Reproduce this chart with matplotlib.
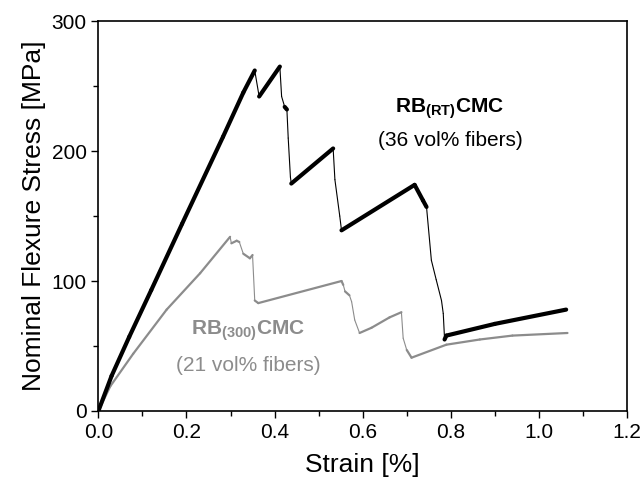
import numpy as np
import matplotlib
matplotlib.use('Agg')
import matplotlib.pyplot as plt
from matplotlib.ticker import MultipleLocator

plt.rcParams['font.family'] = ['Liberation Sans', 'DejaVu Sans']
plt.rcParams['mathtext.fontset'] = 'custom'
plt.rcParams['mathtext.rm'] = 'Liberation Sans'
plt.rcParams['mathtext.bf'] = 'Liberation Sans:bold'

# RB(RT) CMC, 36 vol% fibers
rt_strain = [0.0, 0.03, 0.07, 0.12, 0.19, 0.283, 0.329, 0.355, 0.365, 0.412,
             0.416, 0.423, 0.428, 0.431, 0.436, 0.438, 0.533, 0.537, 0.548,
             0.552, 0.718, 0.737, 0.745, 0.756, 0.767, 0.779, 0.783, 0.786,
             0.79, 0.9, 1.062]
rt_stress = [0, 27, 57, 93, 144, 211, 245, 262, 242, 265,
             242, 234, 232, 210, 180, 175, 202, 178, 150,
             139, 174, 162, 157, 116, 101, 85, 75, 55,
             58, 67, 78]

# RB(300) CMC, 21 vol% fibers
s300_strain = [0.0, 0.027, 0.079, 0.155, 0.231, 0.299, 0.302, 0.314, 0.32,
               0.329, 0.344, 0.35, 0.355, 0.363, 0.552, 0.556, 0.56, 0.57,
               0.575, 0.582, 0.593, 0.62, 0.661, 0.688, 0.692, 0.70, 0.711,
               0.79, 0.866, 0.94, 1.065]
s300_stress = [0, 19, 44, 78, 106, 134, 129, 131, 130,
               121, 117.5, 120, 85, 83, 100, 97, 92, 89,
               84, 70, 60, 64, 72, 76, 56, 47, 41,
               51, 55, 58, 60]


def draw_curve(ax, x, y, color, lw_load, lw_drop):
    # loading parts look thick (noisy signal), sudden drops are thin
    x = np.asarray(x, float)
    y = np.asarray(y, float)
    for i in range(len(x) - 1):
        slope = (y[i + 1] - y[i]) / (x[i + 1] - x[i])
        lw = lw_drop if slope < -800 else lw_load
        ax.plot(x[i:i + 2], y[i:i + 2], color=color, lw=lw,
                solid_capstyle='round', solid_joinstyle='round')


fig = plt.figure(figsize=(6.43, 4.91), dpi=100)
ax = fig.add_axes([0.153, 0.163, 0.822, 0.794])

draw_curve(ax, s300_strain, s300_stress, '#8c8c8c', 1.6, 0.8)
draw_curve(ax, rt_strain, rt_stress, 'black', 3.0, 0.8)

ax.set_xlim(0, 1.2)
ax.set_ylim(0, 300)
ax.xaxis.set_major_locator(MultipleLocator(0.2))
ax.xaxis.set_minor_locator(MultipleLocator(0.1))
ax.yaxis.set_major_locator(MultipleLocator(100))
ax.yaxis.set_minor_locator(MultipleLocator(50))
ax.xaxis.set_major_formatter(matplotlib.ticker.FormatStrFormatter('%.1f'))
ax.tick_params(which='major', length=5, width=1, labelsize=15, direction='out')
ax.tick_params(which='minor', length=3.5, width=1, direction='out')
for sp in ax.spines.values():
    sp.set_linewidth(1.2)

ax.set_xlabel('Strain [%]', fontsize=19, labelpad=8)
ax.set_ylabel('Nominal Flexure Stress [MPa]', fontsize=19, labelpad=4)

ax.text(0.797, 233, r'$\mathbf{RB}_{\mathbf{(RT)}}\mathbf{CMC}$', fontsize=15,
        ha='center', va='center', color='black')
ax.text(0.80, 208.5, '(36 vol% fibers)', fontsize=15, ha='center', va='center',
        color='black')
ax.text(0.34, 62, r'$\mathbf{RB}_{\mathbf{(300)}}\mathbf{CMC}$', fontsize=15,
        ha='center', va='center', color='#8c8c8c')
ax.text(0.34, 35, '(21 vol% fibers)', fontsize=15, ha='center', va='center',
        color='#8c8c8c')

plt.savefig('out.png', dpi=100)
